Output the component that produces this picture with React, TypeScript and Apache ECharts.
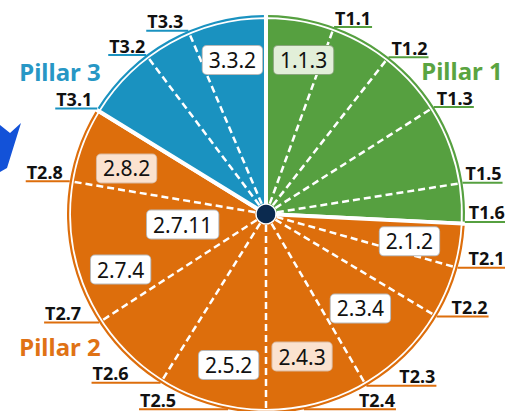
import React, { useEffect, useRef } from 'react';
import * as echarts from 'echarts';

// Pillars (angles in clock degrees, 0 = 12 o'clock, clockwise)
const pillarNames = ['Pillar 1', 'Pillar 2', 'Pillar 3'];
const pillarBounds = [0, 92.8, 301.6, 360];
const pillarColors = ['#56a040', '#dd6e0c', '#1a92c0'];
const pillarTextColors = ['#5aa441', '#e07215', '#2797c5'];

// Dashed target dividers
const dividerAngles = [20, 38, 57.5, 81, 105.7, 121, 149.7, 180, 212, 237, 279.5, 323, 337];

// Target labels on the rim
const targetLabels = ['T1.1', 'T1.2', 'T1.3', 'T1.5', 'T1.6', 'T2.1', 'T2.2', 'T2.3', 'T2.4', 'T2.5', 'T2.6', 'T2.7', 'T2.8', 'T3.1', 'T3.2', 'T3.3'];
const targetAngles = [20, 38, 57.5, 81, 92.3, 105.7, 121, 149.7, 169, 191, 212, 237, 279.5, 302, 323, 337];
const targetPillar = [0, 0, 0, 0, 0, 1, 1, 1, 1, 1, 1, 1, 1, 2, 2, 2];

// Indicator boxes
const boxLabels = ['1.1.3', '3.3.2', '2.8.2', '2.7.11', '2.7.4', '2.5.2', '2.4.3', '2.3.4', '2.1.2'];
const boxAngles = [13.7, 347.7, 288.1, 262.8, 249.1, 193.9, 165.8, 135, 100.8];
const boxRadius = [0.797, 0.792, 0.737, 0.422, 0.782, 0.782, 0.739, 0.671, 0.734];
const boxTone = ['green', 'white', 'peach', 'white', 'white', 'white', 'peach', 'white', 'white'];

// styling (not data)
const leaderSide = ['R', 'R', 'R', 'R', 'R', 'R', 'R', 'R', 'R', 'L', 'L', 'L', 'L', 'L', 'L', 'L'];
const leaderLen = [38, 40, 40, 40, 41, 48, 52, 70, 92, 89, 69, 55, 44, 42, 38, 42];
const toneBg: Record<string, string> = { green: '#e2efd9', white: '#ffffff', peach: '#fbe2cf' };
const toneBorder: Record<string, string> = { green: '#8aa67c', white: '#b9b9b9', peach: '#d9b79c' };

const CX = 266;
const CY = 214;
const R = 199;

export default function App() {
  const ref = useRef<HTMLDivElement>(null);
  useEffect(() => {
    document.body.style.margin = '0';
    const chart = echarts.init(ref.current!, null, { renderer: 'svg' });
    const spans = pillarNames.map((n, i) => ({
      name: n,
      value: pillarBounds[i + 1] - pillarBounds[i],
      itemStyle: { color: pillarColors[i] },
    }));
    const option: any = {
      animation: false,
      polar: { center: [CX, CY], radius: R },
      angleAxis: {
        type: 'value', min: 0, max: 360, startAngle: 90, clockwise: true,
        axisLine: { show: false }, axisTick: { show: false }, axisLabel: { show: false }, splitLine: { show: false },
      },
      radiusAxis: {
        type: 'value', min: 0, max: 1,
        axisLine: { show: false }, axisTick: { show: false }, axisLabel: { show: false }, splitLine: { show: false },
      },
      series: [
        {
          type: 'pie', center: [CX, CY], radius: [0, 197], startAngle: 90, clockwise: true,
          silent: true, label: { show: false }, labelLine: { show: false }, emphasis: { disabled: true },
          itemStyle: { borderColor: '#ffffff', borderWidth: 4 },
          data: spans, z: 1,
        },
        {
          type: 'pie', center: [CX, CY], radius: [196.8, 199], startAngle: 90, clockwise: true, padAngle: 1.2,
          silent: true, label: { show: false }, labelLine: { show: false }, emphasis: { disabled: true },
          data: spans, z: 2,
        },
        {
          type: 'custom', coordinateSystem: 'polar', silent: true, z: 3,
          data: dividerAngles.map((a) => [1, a]),
          renderItem: (params: any, api: any) => {
            const a = api.value(1);
            const p0 = api.coord([0.975, a]);
            const p1 = api.coord([0, a]);
            return {
              type: 'line',
              shape: { x1: p0[0], y1: p0[1], x2: p1[0], y2: p1[1] },
              style: { stroke: '#ffffff', lineWidth: 2.5, lineDash: [7, 4] },
            };
          },
        },
        {
          type: 'scatter', coordinateSystem: 'polar', silent: true, z: 5,
          data: [[0, 0]], symbolSize: 20,
          itemStyle: { color: '#0b2a4f', borderColor: '#ffffff', borderWidth: 1.5, opacity: 1 },
        },
        {
          type: 'custom', coordinateSystem: 'polar', silent: true, z: 6,
          data: targetAngles.map((a) => [1, a]),
          renderItem: (params: any, api: any) => {
            const i = params.dataIndex;
            const a = api.value(1);
            const p = api.coord([1, a]);
            const right = leaderSide[i] === 'R';
            const len = leaderLen[i];
            const x2 = right ? p[0] + len : p[0] - len;
            return {
              type: 'group',
              children: [
                {
                  type: 'line',
                  shape: { x1: p[0], y1: p[1], x2, y2: p[1] },
                  style: { stroke: pillarColors[targetPillar[i]], lineWidth: 2 },
                },
                {
                  type: 'text', x: right ? x2 - 1 : x2 + 1, y: p[1] - 0.5,
                  style: {
                    text: targetLabels[i], fill: '#111111', font: 'bold 18px "Noto Sans"',
                    align: right ? 'right' : 'left', verticalAlign: 'bottom',
                  },
                },
              ],
            };
          },
        },
        {
          type: 'custom', coordinateSystem: 'polar', silent: true, z: 7,
          data: boxAngles.map((a, i) => [boxRadius[i], a]),
          renderItem: (params: any, api: any) => {
            const i = params.dataIndex;
            const p = api.coord([api.value(0), api.value(1)]);
            return {
              type: 'text', x: p[0], y: p[1],
              style: {
                text: boxLabels[i], fill: '#111111', font: '21px "Noto Sans"',
                align: 'center', verticalAlign: 'middle',
                backgroundColor: toneBg[boxTone[i]], borderColor: toneBorder[boxTone[i]], borderWidth: 1,
                borderRadius: 4, padding: [4, 6, 3, 6],
              },
            };
          },
        },
      ],
      graphic: [
        { type: 'text', x: 462, y: 70, style: { text: pillarNames[0], fill: pillarTextColors[0], font: 'bold 24px "Noto Sans"', align: 'center', verticalAlign: 'middle' } },
        { type: 'text', x: 60, y: 346, style: { text: pillarNames[1], fill: pillarTextColors[1], font: 'bold 24px "Noto Sans"', align: 'center', verticalAlign: 'middle' } },
        { type: 'text', x: 60, y: 71, style: { text: pillarNames[2], fill: pillarTextColors[2], font: 'bold 24px "Noto Sans"', align: 'center', verticalAlign: 'middle' } },
        { type: 'polygon', shape: { points: [[0, 125], [10, 133], [21, 123], [7, 168], [0, 172]] }, style: { fill: '#1352d8' } },
      ],
    };
    chart.setOption(option);
    return () => chart.dispose();
  }, []);
  return <div ref={ref} style={{ width: 505, height: 411 }} />;
}
